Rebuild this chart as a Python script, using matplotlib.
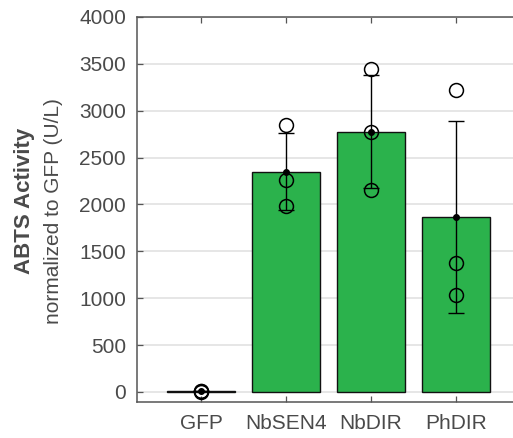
import numpy as np
import matplotlib
matplotlib.use("Agg")
import matplotlib.pyplot as plt

plt.rcParams['font.family'] = ['Liberation Sans', 'DejaVu Sans']
plt.rcParams['axes.edgecolor'] = "#555555"
plt.rcParams['axes.linewidth'] = 1.1

# ABTS activity per construct (U/L, normalized to GFP)
labels = ["GFP", "NbSEN4", "NbDIR", "PhDIR"]
means = [5, 2350, 2777, 1863]
errors = [0, 410, 604, 1025]
replicates = [
    [8, 5, 3],
    [2848, 2261, 1984],
    [3445, 2777, 2155],
    [3221, 1372, 1035],
]

green = "#2bb24c"
txt = "#4a4a4a"
axcol = "#555555"

fig = plt.figure(figsize=(5.13, 4.38), dpi=100)
# axes runs past the right edge of the figure, so no right frame is shown
ax = fig.add_axes([0.2675, 0.0822, 0.8285, 0.879])
ax.spines["right"].set_visible(False)

x = np.arange(1, len(labels) + 1)

ax.grid(axis="y", color="#e4e4e4", linewidth=1.3, zorder=0)

ax.bar(x, means, width=0.8, color=green, edgecolor="#111111", linewidth=1.0, zorder=2)
ax.errorbar(x, means, yerr=errors, fmt="o", color="black", ms=4, elinewidth=1.0,
            capsize=6, capthick=1.0, zorder=3)

for xi, pts in zip(x, replicates):
    ax.plot([xi] * len(pts), pts, "o", mfc="none", mec="black", ms=10, mew=1.1, zorder=4)

ax.set_xlim(0.25, 5.25)
ax.set_ylim(-107, 4000)
ax.set_yticks(np.arange(0, 4001, 500))
ax.set_xticks(x)
ax.set_xticklabels(labels)

ax.tick_params(axis="both", direction="in", length=4, width=0.9, color=axcol,
               labelsize=15, labelcolor=txt)
ax.tick_params(axis="x", top=True, pad=9)
ax.tick_params(axis="y", pad=8)

fig.text(0.047, 0.541, "ABTS Activity", rotation=90, ha="center", va="center",
         fontsize=16, fontweight="bold", color=txt)
fig.text(0.105, 0.518, "normalized to GFP (U/L)", rotation=90, ha="center", va="center",
         fontsize=15, color=txt)

fig.savefig("out.png", dpi=100)
